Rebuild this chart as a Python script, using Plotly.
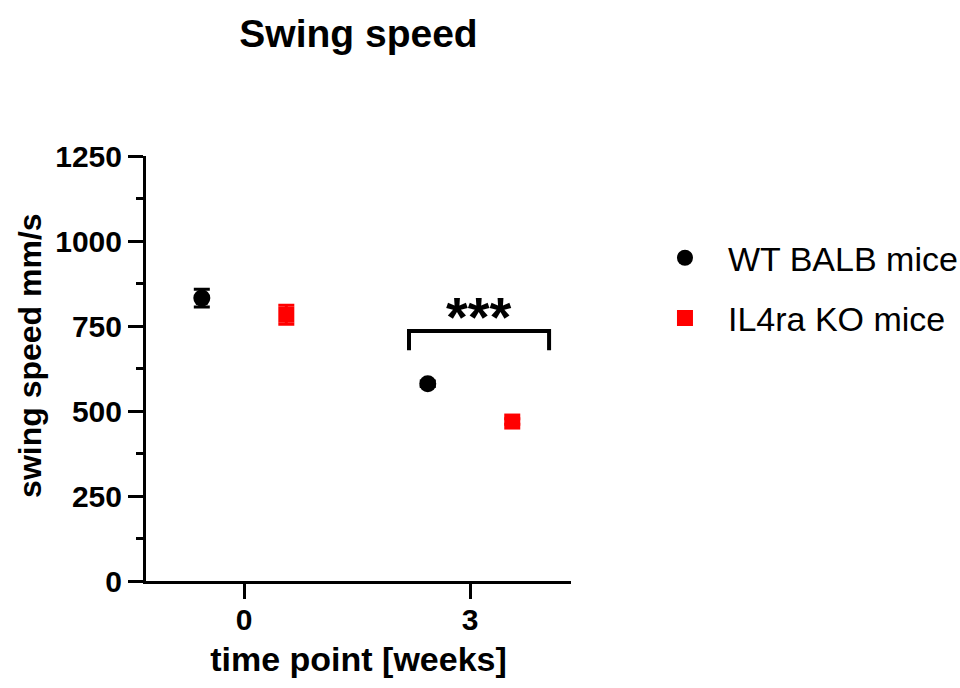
import plotly.graph_objects as go

# ---- data ----
time_labels = ["0", "3"]
wt_mean = [832, 580]
wt_sem = [26, 8]
ko_mean = [783, 469]
ko_sem = [28, 8]
series_names = ["WT BALB mice", "IL4ra KO mice"]
y_ticks = [0, 250, 500, 750, 1000, 1250]
sig_label = "***"
sig_y = 735          # bracket top (data units)
sig_drop = 56        # bracket leg length (data units)

FONT = "Arial, Liberation Sans, sans-serif"
idx = list(range(len(time_labels)))
off = 0.187
x_wt = [i - off for i in idx]
x_ko = [i + off for i in idx]

W, H = 960, 688
ML, MR, MT, MB = 146, 389, 156, 107

fig = go.Figure()
fig.add_trace(go.Scatter(
    x=x_wt, y=wt_mean, mode="markers", name=series_names[0],
    legendgroup="a",
    marker=dict(symbol="circle", size=17, color="black"),
    error_y=dict(type="data", array=wt_sem, color="black", thickness=3, width=8),
))
fig.add_trace(go.Scatter(
    x=x_ko, y=ko_mean, mode="markers", name=series_names[1],
    legendgroup="b",
    marker=dict(symbol="square", size=16, color="#ff0000"),
    error_y=dict(type="data", array=ko_sem, color="#ff0000", thickness=3, width=8),
))

# significance bracket between the two groups at week 3
bx0, bx1 = 1 - 0.27, 1 + 0.35
fig.add_shape(type="path",
              path=f"M {bx0},{sig_y - sig_drop} L {bx0},{sig_y} L {bx1},{sig_y} L {bx1},{sig_y - sig_drop}",
              xref="x", yref="y", line=dict(color="black", width=4))
fig.add_annotation(x=(bx0 + bx1) / 2, y=sig_y, xref="x", yref="y", text=sig_label,
                   showarrow=False, yanchor="middle", yshift=15,
                   font=dict(family=FONT, size=56, color="black", weight="bold"))

# y-axis title placed as annotation for exact position
fig.add_annotation(x=-0.273, y=0.532, xref="paper", yref="paper", text="swing speed mm/s",
                   textangle=-90, showarrow=False, xanchor="center", yanchor="middle",
                   font=dict(family=FONT, size=32, color="black", weight="bold"))

fig.update_layout(
    width=W, height=H,
    margin=dict(l=ML, r=MR, t=MT, b=MB, autoexpand=False),
    paper_bgcolor="white", plot_bgcolor="white",
    font=dict(family=FONT, color="black"),
    title=dict(text="Swing speed", x=0.5, xref="paper", y=1 - 33 / H, yref="container",
               xanchor="center", yanchor="middle",
               font=dict(family=FONT, size=39, color="black", weight="bold")),
    showlegend=True,
    legend=dict(x=1.167, y=0.689, xref="paper", yref="paper", xanchor="left", yanchor="middle",
                font=dict(family=FONT, size=34, color="black"), tracegroupgap=13,
                itemwidth=76, bgcolor="rgba(0,0,0,0)"),
    xaxis=dict(range=[-0.434, 1.447], tickvals=idx, ticktext=time_labels,
               showline=True, linecolor="black", linewidth=3, showgrid=False, zeroline=False,
               ticks="outside", ticklen=15, tickwidth=3, tickcolor="black",
               ticklabelstandoff=-5,
               tickfont=dict(family=FONT, size=30, color="black", weight="bold"),
               title=dict(text="time point [weeks]",
                          font=dict(family=FONT, size=34, color="black", weight="bold"),
                          standoff=13)),
    yaxis=dict(range=[0, 1250], tickvals=y_ticks,
               showline=True, linecolor="black", linewidth=3, showgrid=False, zeroline=False,
               ticks="outside", ticklen=15, tickwidth=3, tickcolor="black",
               tickfont=dict(family=FONT, size=30, color="black", weight="bold"),
               minor=dict(dtick=125, tick0=0, ticks="outside", ticklen=7, tickwidth=3,
                          tickcolor="black", showgrid=False)),
)

fig.write_html("out.html", config={"displayModeBar": False},
               post_script="document.body.style.margin='0px';document.body.style.overflow='hidden';")
